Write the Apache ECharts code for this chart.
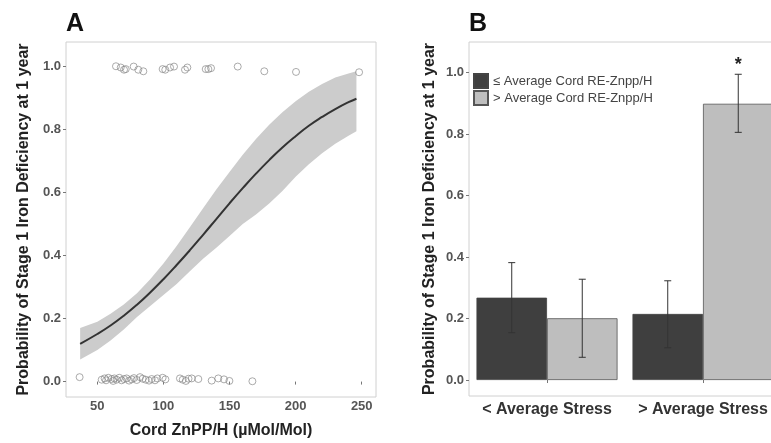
<!DOCTYPE html>
<html><head><meta charset="utf-8">
<script src="https://cdn.jsdelivr.net/npm/echarts@6/dist/echarts.min.js"></script>
<style>html,body{margin:0;padding:0;background:#fff}#c{width:771px;height:443px}</style>
</head><body><div id="c"></div>
<script>
// ---- Panel A data ----
const curveX = [37,50,60,70,80,90,100,110,120,130,140,150,160,170,180,190,200,210,220,230,240,246];
const fitY   = [0.120,0.151,0.178,0.209,0.244,0.283,0.325,0.370,0.417,0.466,0.516,0.566,0.614,0.660,0.703,0.743,0.779,0.812,0.840,0.865,0.887,0.898];
const ciUpper= [0.170,0.190,0.215,0.245,0.280,0.325,0.375,0.430,0.490,0.550,0.610,0.665,0.720,0.770,0.815,0.855,0.890,0.920,0.945,0.965,0.978,0.985];
const ciLower= [0.070,0.100,0.130,0.165,0.205,0.240,0.275,0.310,0.350,0.390,0.425,0.462,0.500,0.530,0.565,0.605,0.650,0.690,0.725,0.755,0.780,0.795];
const onesX = [64.1,67.7,70.2,71.5,77.5,81.0,84.8,99.4,101.4,105.0,108.0,116.3,118.1,132.0,134.0,136.0,156.2,176.3,200.3,248.0];
const onesY = [1.001,0.997,0.990,0.992,1.000,0.990,0.985,0.992,0.990,0.997,1.000,0.990,0.997,0.992,0.992,0.995,1.000,0.985,0.983,0.982];
const zerosX = [36.6,53.3,55.5,56.6,58.3,60.8,62.0,62.9,64.6,66.6,68.4,70.2,72.2,74.0,76.0,77.7,79.8,82.3,84.3,86.6,89.1,91.1,93.6,95.4,99.4,101.5,112.5,114.6,117.0,119.0,121.4,126.4,136.5,141.5,145.8,149.9,167.3];
const zerosY = [0.014,0.006,0.010,0.004,0.012,0.008,0.002,0.010,0.006,0.012,0.004,0.008,0.010,0.003,0.007,0.011,0.005,0.014,0.009,0.006,0.003,0.008,0.004,0.010,0.012,0.007,0.010,0.006,0.002,0.009,0.010,0.008,0.003,0.010,0.007,0.002,0.001];
const aXTicks = [50,100,150,200,250];
const yTicks = [0,0.2,0.4,0.6,0.8,1.0];

// ---- Panel B data ----
const stressCats = ['< Average Stress','> Average Stress'];
const seriesNames = ['\u2264 Average Cord RE-Znpp/H','> Average Cord RE-Znpp/H'];
const lowZnpp   = [0.268,0.215];
const lowZnppLo = [0.154,0.105];
const lowZnppHi = [0.382,0.323];
const highZnpp   = [0.201,0.899];
const highZnppLo = [0.074,0.806];
const highZnppHi = [0.328,0.995];
const highSig = ['','*'];

const FONT = '"Liberation Sans", Arial, sans-serif';
const CAT_GAP = 0.096;

function zip(a,b){return a.map((v,i)=>[v,b[i]]);}

function errItem(side, sig){
  return function(params, api){
    const i = api.value(0);
    const bandW = api.size([1,0])[0];
    const barW = bandW*(1-CAT_GAP)/2;
    const cx = api.coord([i,0])[0] + (side===0 ? -barW/2 : barW/2);
    const top = api.coord([i, api.value(2)])[1];
    const bot = api.coord([i, api.value(1)])[1];
    const cap = 3.5;
    const st = {stroke:'#333', lineWidth:1};
    const ch = [
      {type:'line', shape:{x1:cx,y1:top,x2:cx,y2:bot}, style:st},
      {type:'line', shape:{x1:cx-cap,y1:top,x2:cx+cap,y2:top}, style:st},
      {type:'line', shape:{x1:cx-cap,y1:bot,x2:cx+cap,y2:bot}, style:st}
    ];
    if (sig && sig[i]) ch.push({type:'text', style:{text:sig[i], x:cx, y:top-18, align:'center', verticalAlign:'top', font:'bold 18px '+FONT, fill:'#222'}});
    return {type:'group', children:ch};
  };
}

const chart = echarts.init(document.getElementById('c'), null, {renderer:'canvas'});
const tickLabel = {fontFamily:FONT, fontWeight:'bold', fontSize:13, color:'#555'};
const nameStyle = {fontFamily:FONT, fontWeight:'bold', fontSize:16, color:'#222'};

chart.setOption({
  animation:false,
  backgroundColor:'#fff',
  title:[
    {text:'A', left:66, top:12, padding:0, textStyle:{fontFamily:FONT, fontWeight:'bold', fontSize:25, color:'#111'}},
    {text:'B', left:469, top:12, padding:0, textStyle:{fontFamily:FONT, fontWeight:'bold', fontSize:25, color:'#111'}}
  ],
  legend:{
    left:473, top:73, orient:'vertical', itemGap:1, itemWidth:14, itemHeight:14, padding:0,
    icon:'rect', data:seriesNames,
    textStyle:{fontFamily:FONT, fontSize:13, color:'#444'}
  },
  grid:[
    {left:66, top:42, width:310, height:355, show:true, borderColor:'#d0d0d0', borderWidth:1, backgroundColor:'transparent', outerBoundsMode:'none'},
    {left:469, top:42, width:312, height:354, show:true, borderColor:'#d0d0d0', borderWidth:1, backgroundColor:'transparent', outerBoundsMode:'none'}
  ],
  xAxis:[
    {type:'value', gridIndex:0, min:26.3, max:260.8,
     name:'Cord ZnPP/H (\u00b5Mol/Mol)', nameLocation:'middle', nameGap:26,
     nameTextStyle:nameStyle,
     axisLine:{show:false}, splitLine:{show:false},
     axisTick:{show:true, length:3, customValues:aXTicks, lineStyle:{color:'#777'}},
     axisLabel:Object.assign({margin:3, customValues:aXTicks}, tickLabel)},
    {type:'category', gridIndex:1, data:stressCats,
     axisLine:{show:false}, splitLine:{show:false},
     axisTick:{show:true, alignWithLabel:true, length:3, lineStyle:{color:'#777'}},
     axisLabel:{margin:6, interval:0, fontFamily:FONT, fontWeight:'bold', fontSize:16, color:'#333'}}
  ],
  yAxis:[
    {type:'value', gridIndex:0, min:-0.049, max:1.078,
     name:'Probability of Stage 1 Iron Deficiency at 1 year', nameLocation:'middle', nameGap:34,
     nameTextStyle:nameStyle,
     axisLine:{show:false}, splitLine:{show:false},
     axisTick:{show:true, length:3, customValues:yTicks, lineStyle:{color:'#777'}},
     axisLabel:Object.assign({margin:5, customValues:yTicks, formatter:v=>v.toFixed(1)}, tickLabel)},
    {type:'value', gridIndex:1, min:-0.052, max:1.1,
     name:'Probability of Stage 1 Iron Deficiency at 1 year', nameLocation:'middle', nameGap:31,
     nameTextStyle:nameStyle,
     axisLine:{show:false}, splitLine:{show:false},
     axisTick:{show:true, length:3, customValues:yTicks, lineStyle:{color:'#777'}},
     axisLabel:Object.assign({margin:5, customValues:yTicks, formatter:v=>v.toFixed(1)}, tickLabel)}
  ],
  series:[
    {type:'custom', xAxisIndex:0, yAxisIndex:0, data:[[100,0.5]], silent:true, z:1,
     renderItem:function(params, api){
       const pts=[];
       for(let i=0;i<curveX.length;i++) pts.push(api.coord([curveX[i], ciUpper[i]]));
       for(let i=curveX.length-1;i>=0;i--) pts.push(api.coord([curveX[i], ciLower[i]]));
       return {type:'polygon', shape:{points:pts}, style:{fill:'#cccccc'}};
     }},
    {type:'line', xAxisIndex:0, yAxisIndex:0, data:zip(curveX, fitY), smooth:true, showSymbol:false, z:3,
     lineStyle:{color:'#333', width:2}},
    {type:'scatter', xAxisIndex:0, yAxisIndex:0, data:zip(onesX, onesY), symbol:'circle', symbolSize:7, z:4,
     itemStyle:{color:'transparent', borderColor:'#8a8a8a', borderWidth:0.9}},
    {type:'scatter', xAxisIndex:0, yAxisIndex:0, data:zip(zerosX, zerosY), symbol:'circle', symbolSize:7, z:4,
     itemStyle:{color:'transparent', borderColor:'#8a8a8a', borderWidth:0.9}},
    {name:seriesNames[0], type:'bar', xAxisIndex:1, yAxisIndex:1, data:lowZnpp, barGap:0, barCategoryGap:(CAT_GAP*100)+'%',
     itemStyle:{color:'#3f3f3f', borderColor:'#444', borderWidth:0.8}},
    {name:seriesNames[1], type:'bar', xAxisIndex:1, yAxisIndex:1, data:highZnpp, barGap:0, barCategoryGap:(CAT_GAP*100)+'%',
     itemStyle:{color:'#bebebe', borderColor:'#555', borderWidth:0.8}},
    {type:'custom', xAxisIndex:1, yAxisIndex:1, z:5, silent:true,
     data:stressCats.map((c,i)=>[i, lowZnppLo[i], lowZnppHi[i]]), renderItem:errItem(0, null)},
    {type:'custom', xAxisIndex:1, yAxisIndex:1, z:5, silent:true,
     data:stressCats.map((c,i)=>[i, highZnppLo[i], highZnppHi[i]]), renderItem:errItem(1, highSig)}
  ]
});
</script>
</body></html>
